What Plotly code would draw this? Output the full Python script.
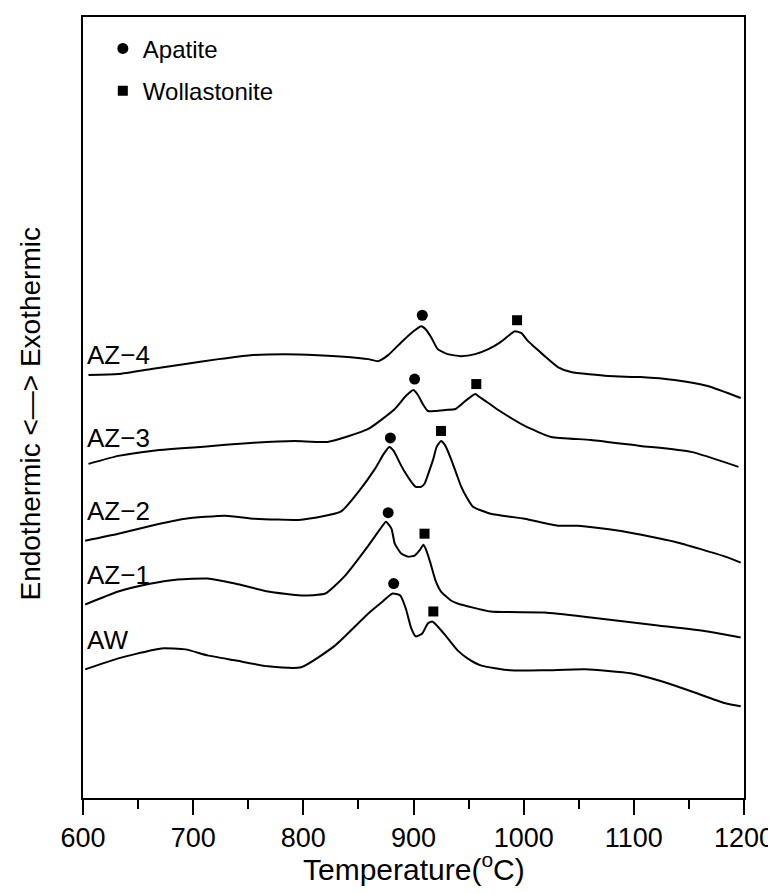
import plotly.graph_objects as go

# ---- data (temperature in degC, DTA signal in arbitrary units) ----
aw_t = [602, 618, 632, 650, 671, 693, 713, 738, 768, 798, 829, 859, 872, 881, 888, 893, 898, 902, 908, 913,
        917, 922, 929, 940, 949, 961, 988, 1019, 1056, 1097, 1122, 1152, 1183, 1197]
aw_y = [139, 145, 150, 155, 160, 159, 153, 148, 142, 141, 163, 195, 207, 215, 213, 200, 180, 172, 175, 185,
        187, 182, 173, 158, 150, 143, 138, 138, 139, 135, 128, 117, 105, 102]

az1_t = [602, 632, 662, 686, 713, 738, 768, 798, 820, 838, 859, 870, 875, 880, 883, 889, 895, 901, 906, 909,
         911, 915, 920, 925, 934, 940, 970, 1019, 1061, 1122, 1167, 1197]
az1_y = [204, 217, 225, 229, 230, 225, 217, 213, 215, 233, 263, 280, 287, 280, 265, 255, 252, 253, 259, 264,
         260, 247, 228, 217, 208, 205, 197, 196, 191, 183, 177, 171]

az2_t = [602, 632, 662, 693, 729, 756, 798, 834, 850, 865, 873, 878, 882, 888, 892, 898, 902, 907, 910, 914,
         918, 921, 925, 929, 934, 939, 943, 948, 954, 970, 1001, 1031, 1049, 1092, 1137, 1183, 1197]
az2_y = [268, 275, 283, 290, 293, 290, 289, 297, 317, 340, 355, 362, 358, 345, 337, 327, 322, 322, 325, 337,
         350, 362, 368, 363, 350, 335, 323, 312, 302, 295, 290, 283, 283, 277, 267, 252, 246]

az3_t = [605, 632, 662, 707, 752, 792, 822, 859, 883, 893, 900, 904, 909, 913, 920, 929, 938, 947, 956, 960,
         968, 977, 1001, 1025, 1061, 1106, 1152, 1195]
az3_y = [345, 353, 358, 362, 366, 368, 367, 380, 400, 413, 419, 414, 404, 398, 398, 399, 400, 408, 415, 412,
         406, 399, 383, 372, 369, 363, 357, 342]

az4_t = [605, 632, 662, 693, 723, 752, 783, 813, 843, 859, 868, 877, 889, 900, 907, 911, 916, 922, 931, 943,
         956, 968, 979, 988, 992, 998, 1004, 1010, 1019, 1031, 1043, 1077, 1106, 1137, 1167, 1197]
az4_y = [434, 435, 440, 445, 450, 454, 455, 454, 452, 450, 448, 454, 467, 478, 483, 480, 472, 460, 455, 453,
         455, 460, 467, 475, 478, 476, 468, 462, 453, 442, 437, 433, 432, 429, 423, 411]

series_names = ["AW", "AZ\u22121", "AZ\u22122", "AZ\u22123", "AZ\u22124"]
label_y = [168, 234, 298, 371, 454]

# crystallisation peak markers (one per sample, same order as series_names)
apatite_t = [882, 877, 879, 901, 908]
apatite_y = [225, 296, 371, 430, 494]
wollastonite_t = [918, 910, 925, 957, 994]
wollastonite_y = [197, 275, 378, 425, 489]

x_ticks = [600, 700, 800, 900, 1000, 1100, 1200]

FONT = "Liberation Sans, Arial, Helvetica, sans-serif"

fig = go.Figure()
for t, y in [(aw_t, aw_y), (az1_t, az1_y), (az2_t, az2_y), (az3_t, az3_y), (az4_t, az4_y)]:
    fig.add_trace(go.Scatter(x=t, y=y, mode="lines", showlegend=False,
                             line=dict(color="black", width=2, shape="spline", smoothing=0.5),
                             hoverinfo="skip"))

fig.add_trace(go.Scatter(x=apatite_t, y=apatite_y, mode="markers", name="Apatite",
                         legendgroup="a",
                         marker=dict(symbol="circle", size=11, color="black")))
fig.add_trace(go.Scatter(x=wollastonite_t, y=wollastonite_y, mode="markers", name="Wollastonite",
                         legendgroup="w",
                         marker=dict(symbol="square", size=10, color="black")))

for name, ly in zip(series_names, label_y):
    fig.add_annotation(x=602, y=ly, text=name, showarrow=False, xanchor="left", yanchor="middle",
                       font=dict(family=FONT, size=26, color="black"))

fig.add_annotation(xref="paper", yref="paper", x=-0.079, y=0.492,
                   text="Endothermic &lt;\u2014&gt; Exothermic", textangle=-90,
                   showarrow=False, xanchor="center", yanchor="middle",
                   font=dict(family=FONT, size=28, color="black"))

# x-axis title placed as a paper annotation so it stays inside the canvas
fig.add_annotation(xref="paper", yref="paper", x=0.5, y=-0.088,
                   text="Temperature(<sup>o</sup>C)", showarrow=False,
                   xanchor="center", yanchor="middle",
                   font=dict(family=FONT, size=30, color="black"))

fig.update_layout(
    width=776, height=894,
    margin=dict(l=75, r=40, t=7, b=104),
    paper_bgcolor="white", plot_bgcolor="white",
    font=dict(family=FONT, color="black"),
    legend=dict(x=0.03, y=0.988, xanchor="left", yanchor="top",
                font=dict(family=FONT, size=24, color="black"),
                traceorder="grouped", tracegroupgap=8, bgcolor="rgba(0,0,0,0)"),
    xaxis=dict(range=[600, 1200], tickvals=x_ticks, ticks="outside", ticklen=15, tickwidth=2,
               tickcolor="black", showline=True, linecolor="black", linewidth=2, mirror=True,
               showgrid=False, zeroline=False,
               tickfont=dict(family=FONT, size=27, color="black"),
               minor=dict(dtick=50, ticks="outside", ticklen=9, tickwidth=2, tickcolor="black")),
    yaxis=dict(range=[10, 793], showticklabels=False, ticks="", showline=True, linecolor="black",
               linewidth=2, mirror=True, showgrid=False, zeroline=False),
)

fig.write_html("out.html")
